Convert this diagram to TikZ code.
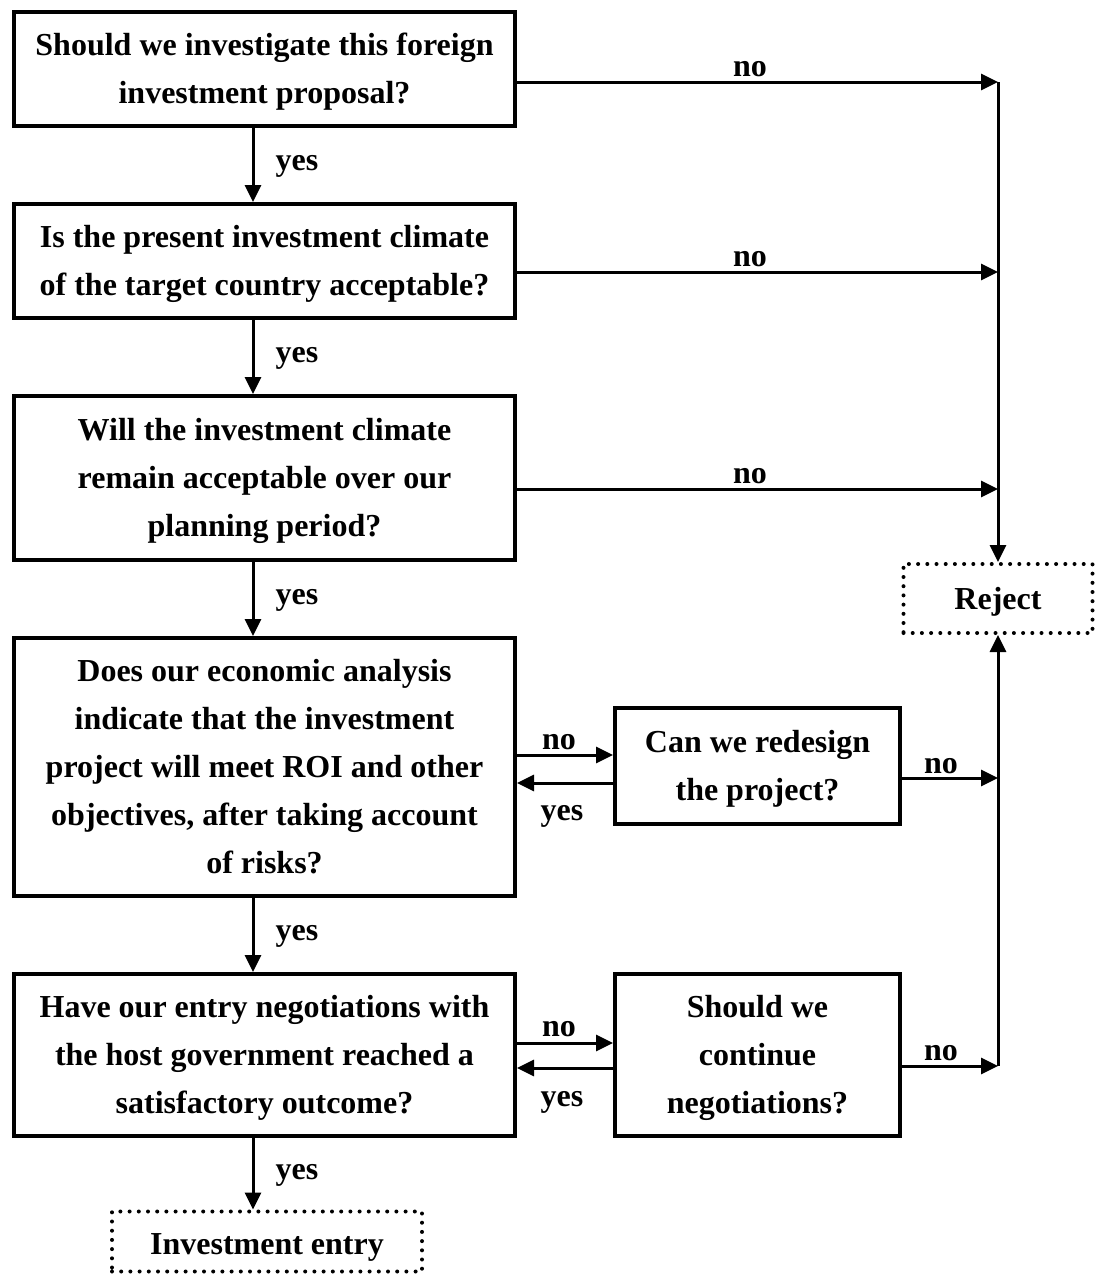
\documentclass[tikz,border=0pt]{standalone}
\usepackage{fontspec}
\setmainfont{Liberation Serif}
\usetikzlibrary{arrows.meta,calc}
\newcommand\flowfont{\fontsize{32}{48}\selectfont\bfseries}
% struts that fix the height of the first line and the depth of the last one
\newcommand\topstrut{\rule{0pt}{29.5pt}}
\newcommand\botstrut{\rule[-8pt]{0pt}{8pt}}
\tikzset{
  qbox/.style={draw, line width=4pt, inner sep=0pt, align=center, font=\flowfont},
  endbox/.style={draw, line width=4pt, line cap=round, dash pattern=on 0pt off 9.2pt,
                 inner sep=0pt, align=center, font=\flowfont},
  arr/.style={line width=3pt, -{Triangle[length=17pt,width=16pt]}},
  lbl/.style={font=\flowfont, inner sep=0pt, anchor=base},
}
\begin{document}
\begin{tikzpicture}[x=1pt,y=-1pt]
\useasboundingbox (0,0) rectangle (1104,1282);

% question boxes on the left
\node[qbox, minimum width=501pt, minimum height=114pt] (b1) at (264.5,69)
  {\topstrut Should we investigate this foreign\\investment proposal?\botstrut};
\node[qbox, minimum width=501pt, minimum height=114pt] (b2) at (264.5,261)
  {\topstrut Is the present investment climate\\of the target country acceptable?\botstrut};
\node[qbox, minimum width=501pt, minimum height=164pt] (b3) at (264.5,478)
  {\topstrut Will the investment climate\\remain acceptable over our\\planning period?\botstrut};
\node[qbox, minimum width=501pt, minimum height=258pt] (b4) at (264.5,767)
  {\topstrut Does our economic analysis\\indicate that the investment\\project will meet ROI and other\\objectives, after taking account\\of risks?\botstrut};
\node[qbox, minimum width=501pt, minimum height=162pt] (b5) at (264.5,1055)
  {\topstrut Have our entry negotiations with\\the host government reached a\\satisfactory outcome?\botstrut};

% side questions
\node[qbox, minimum width=285pt, minimum height=116pt] (rd) at (757.5,766)
  {\topstrut Can we redesign\\the project?\botstrut};
\node[qbox, minimum width=285pt, minimum height=162pt] (ng) at (757.5,1055)
  {\topstrut Should we\\continue\\negotiations?\botstrut};

% outcomes
\node[endbox, minimum width=189pt, minimum height=69pt] (rj) at (998,598.5)
  {\topstrut Reject\botstrut};
\node[endbox, minimum width=310pt, minimum height=60pt] (ie) at (267,1241.5)
  {\rule{0pt}{34pt}Investment entry\botstrut};

% main "yes" path
\coordinate (ax) at (253,0);
\draw[arr] (b1.south -| ax) -- (b2.north -| ax);
\draw[arr] (b2.south -| ax) -- (b3.north -| ax);
\draw[arr] (b3.south -| ax) -- (b4.north -| ax);
\draw[arr] (b4.south -| ax) -- (b5.north -| ax);
\draw[arr] (b5.south -| ax) -- (ie.north -| ax);
\node[lbl] (y1) at (297,170) {yes};
\node[lbl] (y2) at (297,362) {yes};
\node[lbl] (y3) at (297,604) {yes};
\node[lbl] (y4) at (297,940) {yes};
\node[lbl] (y5) at (297,1179) {yes};

% "no" branches into the reject bus
\coordinate (r1) at (998,82);
\coordinate (r2) at (998,272);
\coordinate (r3) at (998,489);
\coordinate (r4) at (998,778);
\coordinate (r5) at (998,1066);
\draw[arr] (r1) -- (rj.north);
\draw[arr] (r5) -- (rj.south);
\draw[arr] (b1.east |- r1) -- (r1);
\draw[arr] (b2.east |- r2) -- (r2);
\draw[arr] (b3.east |- r3) -- (r3);
\draw[arr] (rd.east |- r4) -- (r4);
\draw[arr] (ng.east |- r5) -- (r5);
\node[lbl] (n1) at (750,76) {no};
\node[lbl] (n2) at (750,266) {no};
\node[lbl] (n3) at (750,483) {no};
\node[lbl] (n4) at (941,773) {no};
\node[lbl] (n5) at (941,1060) {no};

% exchanges with the side questions
\coordinate (h1) at (565,755);
\coordinate (h2) at (565,783);
\coordinate (h3) at (565,1043);
\coordinate (h4) at (565,1068);
\draw[arr] (b4.east |- h1) -- (rd.west |- h1);
\draw[arr] (rd.west |- h2) -- (b4.east |- h2);
\draw[arr] (b5.east |- h3) -- (ng.west |- h3);
\draw[arr] (ng.west |- h4) -- (b5.east |- h4);
\node[lbl] (n6) at (559,749) {no};
\node[lbl] (y6) at (562,820) {yes};
\node[lbl] (n7) at (559,1036) {no};
\node[lbl] (y7) at (562,1106) {yes};
\end{tikzpicture}
\end{document}
